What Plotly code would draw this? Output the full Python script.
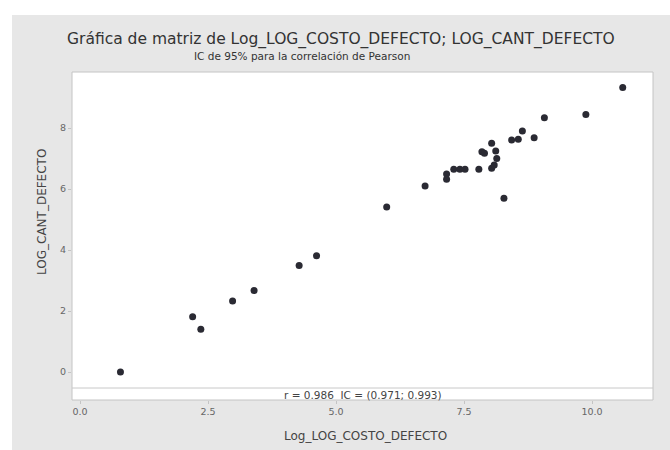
import plotly.graph_objects as go

# Log-transformed defect cost vs. defect count
log_costo = [0.79, 2.20, 2.36, 2.98, 3.40, 4.28, 4.62, 5.99, 6.74, 7.16, 7.16,
             7.30, 7.42, 7.52, 7.79, 8.04, 8.09, 8.14, 8.12, 7.85, 7.90, 8.04,
             8.43, 8.56, 8.87, 8.64, 9.07, 9.88, 10.60, 8.28]
log_cant = [0.00, 1.81, 1.40, 2.33, 2.67, 3.49, 3.81, 5.41, 6.10, 6.49, 6.32,
            6.65, 6.65, 6.65, 6.65, 6.68, 6.79, 7.00, 7.25, 7.22, 7.17, 7.50,
            7.61, 7.63, 7.68, 7.90, 8.34, 8.44, 9.33, 5.70]

x_ticks = [0, 2.5, 5, 7.5, 10]
x_tick_text = ["0.0", "2.5", "5.0", "7.5", "10.0"]
y_ticks = [0, 2, 4, 6, 8]

titulo = "Gráfica de matriz de Log_LOG_COSTO_DEFECTO; LOG_CANT_DEFECTO"
subtitulo = "IC de 95% para la correlación de Pearson"
texto_r = "r = 0.986  IC = (0.971; 0.993)"

FONT = "DejaVu Sans"
W, H = 670, 450
L, R, T, B = 72, 17, 72, 50
pw, ph = W - L - R, H - T - B


def px_x(v):
    return (v - L) / pw


def px_y(v):
    return (H - B - v) / ph


fig = go.Figure()
fig.add_trace(go.Scatter(
    x=log_costo, y=log_cant, mode="markers",
    marker=dict(size=7, color="#2a2a33", line=dict(width=0)),
    hoverinfo="x+y", showlegend=False,
))

shapes = [
    # gray panel behind the chart
    dict(type="rect", xref="paper", yref="paper", layer="below",
         x0=px_x(12), x1=px_x(W + 5), y0=px_y(H + 5), y1=px_y(15),
         fillcolor="#e7e7e7", line=dict(width=0)),
    # white plotting box
    dict(type="rect", xref="paper", yref="paper", layer="below",
         x0=0, x1=1, y0=0, y1=1, fillcolor="white",
         line=dict(color="#c4c4c4", width=1)),
    # separator for the correlation strip
    dict(type="line", xref="paper", yref="paper",
         x0=0, x1=1, y0=px_y(388), y1=px_y(388),
         line=dict(color="#c8c8c8", width=1)),
]

annotations = [
    dict(text=titulo, xref="paper", yref="paper", x=px_x(341), y=px_y(39.5),
         showarrow=False, xanchor="center", yanchor="middle",
         font=dict(family=FONT, size=15.5, color="#333333")),
    dict(text=subtitulo, xref="paper", yref="paper", x=px_x(302), y=px_y(56.5),
         showarrow=False, xanchor="center", yanchor="middle",
         font=dict(family=FONT, size=10.5, color="#333333")),
    dict(text=texto_r, xref="paper", yref="paper", x=px_x(363), y=px_y(394.5),
         showarrow=False, xanchor="center", yanchor="middle",
         font=dict(family=FONT, size=10.5, color="#444444")),
    dict(text="LOG_CANT_DEFECTO", xref="paper", yref="paper", x=px_x(42), y=px_y(212),
         showarrow=False, textangle=-90, xanchor="center", yanchor="middle",
         font=dict(family=FONT, size=12, color="#444444")),
    dict(text="Log_LOG_COSTO_DEFECTO", xref="paper", yref="paper", x=px_x(365), y=px_y(436),
         showarrow=False, xanchor="center", yanchor="middle",
         font=dict(family=FONT, size=12, color="#444444")),
]

fig.update_layout(
    width=W, height=H,
    margin=dict(l=L, r=R, t=T, b=B, pad=0),
    paper_bgcolor="white",
    plot_bgcolor="rgba(0,0,0,0)",
    shapes=shapes,
    annotations=annotations,
    xaxis=dict(range=[(L - 80) / 51.2, (L + pw - 80) / 51.2],
               tickvals=x_ticks, ticktext=x_tick_text,
               showgrid=False, zeroline=False, showline=False,
               ticks="outside", ticklen=3, tickcolor="#c4c4c4",
               tickfont=dict(family=FONT, size=9.5, color="#666666")),
    yaxis=dict(range=[(372 - (T + ph)) / 30.5, (372 - T) / 30.5],
               tickvals=y_ticks,
               showgrid=False, zeroline=False, showline=False,
               ticks="outside", ticklen=3, tickcolor="#c4c4c4",
               tickfont=dict(family=FONT, size=9.5, color="#666666")),
)

fig.write_html("out.html")
